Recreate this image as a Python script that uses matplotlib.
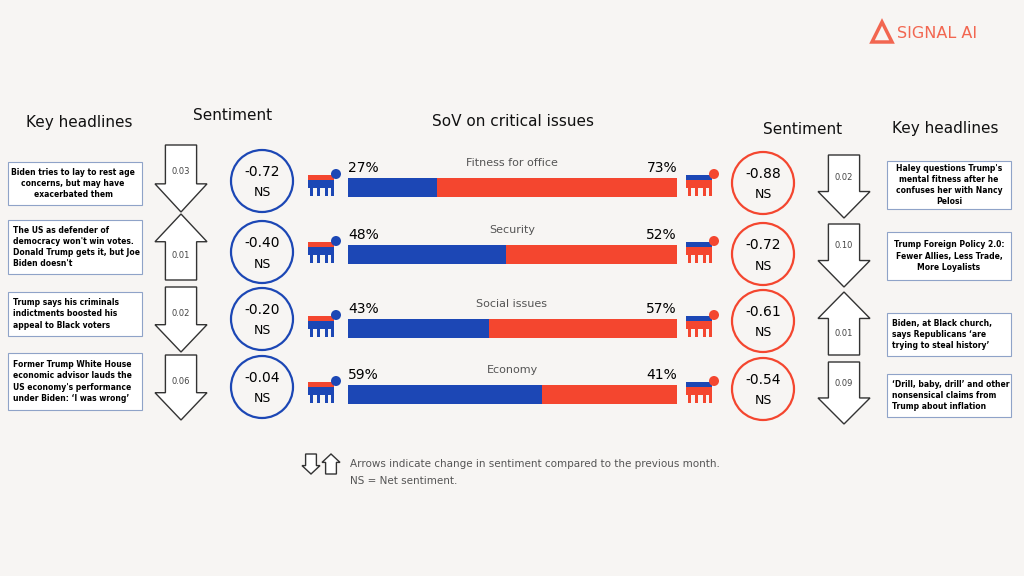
import matplotlib.pyplot as plt
from matplotlib.patches import Polygon, Circle, Rectangle

BLUE = "#1c47b5"
RED = "#f4462f"
BG = "#f7f5f3"

issues = ["Fitness for office", "Security", "Social issues", "Economy"]
dem_share = [27, 48, 43, 59]
rep_share = [73, 52, 57, 41]

dem_ns = ["-0.72", "-0.40", "-0.20", "-0.04"]
rep_ns = ["-0.88", "-0.72", "-0.61", "-0.54"]
dem_change = ["0.03", "0.01", "0.02", "0.06"]
dem_dir = ["down", "up", "down", "down"]
rep_change = ["0.02", "0.10", "0.01", "0.09"]
rep_dir = ["down", "down", "up", "down"]

dem_headlines = [
    "Biden tries to lay to rest age\nconcerns, but may have\nexacerbated them",
    "The US as defender of\ndemocracy won't win votes.\nDonald Trump gets it, but Joe\nBiden doesn't",
    "Trump says his criminals\nindictments boosted his\nappeal to Black voters",
    "Former Trump White House\neconomic advisor lauds the\nUS economy's performance\nunder Biden: \u2018I was wrong\u2019",
]
rep_headlines = [
    "Haley questions Trump's\nmental fitness after he\nconfuses her with Nancy\nPelosi",
    "Trump Foreign Policy 2.0:\nFewer Allies, Less Trade,\nMore Loyalists",
    "Biden, at Black church,\nsays Republicans \u2018are\ntrying to steal history\u2019",
    "\u2018Drill, baby, drill\u2019 and other\nnonsensical claims from\nTrump about inflation",
]

# layout (pixels)
bar_y = [187, 254, 328, 394]
circ_y = [181, 252, 319, 387]
l_arrows = [(145, 212), (214, 280), (287, 352), (355, 420)]
r_arrows = [(155, 218), (224, 287), (292, 355), (362, 424)]
l_boxes = [(162, 205), (220, 274), (292, 336), (353, 410)]
r_boxes = [(161, 209), (232, 280), (313, 356), (374, 417)]
BAR_X0, BAR_W = 348, 329


def arrow(ax, x0, x1, y0, y1, direction):
    w = x1 - x0
    s0, s1 = x0 + w * 0.2, x1 - w * 0.2
    h = (y1 - y0) * 0.42
    if direction == "down":
        pts = [(s0, y0), (s1, y0), (s1, y1 - h), (x1, y1 - h), ((x0 + x1) / 2, y1),
               (x0, y1 - h), (s0, y1 - h)]
    else:
        pts = [(s0, y1), (s1, y1), (s1, y0 + h), (x1, y0 + h), ((x0 + x1) / 2, y0),
               (x0, y0 + h), (s0, y0 + h)]
    ax.add_patch(Polygon(pts, closed=True, fc="white", ec="#333333", lw=1.0))


def mascot(ax, cx, cy, color, other):
    ax.add_patch(Rectangle((cx - 14, cy - 8), 26, 13, fc=color, ec="none"))
    ax.add_patch(Rectangle((cx - 14, cy - 8), 26, 5, fc=other, ec="none"))
    for dx in (-12, -5, 3, 9):
        ax.add_patch(Rectangle((cx + dx, cy + 4), 3, 9, fc=color, ec="none"))
    ax.add_patch(Circle((cx + 14, cy - 9), 5, fc=color, ec="none"))


def main():
    fig = plt.figure(figsize=(10.24, 5.76), dpi=100)
    fig.patch.set_facecolor(BG)
    ax = fig.add_axes([0, 0, 1, 1])
    ax.set_xlim(0, 1024)
    ax.set_ylim(576, 0)
    ax.axis("off")
    ax.set_facecolor(BG)

    hfont = dict(fontsize=11, color="#111111")
    ax.text(79, 123, "Key headlines", ha="center", va="center", **hfont)
    ax.text(233, 116, "Sentiment", ha="center", va="center", **hfont)
    ax.text(513, 121, "SoV on critical issues", ha="center", va="center", **hfont)
    ax.text(803, 129, "Sentiment", ha="center", va="center", **hfont)
    ax.text(945, 129, "Key headlines", ha="center", va="center", **hfont)

    # logo
    ax.add_patch(Polygon([(872, 42), (882, 22), (892, 42)], closed=True, fc="none",
                         ec="#f26650", lw=2.5))
    ax.text(897, 33, "SIGNAL AI", ha="left", va="center", fontsize=11.5, color="#f26650")

    # SoV bars
    ax.barh(bar_y, [d / 100 * BAR_W for d in dem_share], left=BAR_X0, height=19, color=BLUE)
    ax.barh(bar_y, [r / 100 * BAR_W for r in rep_share],
            left=[BAR_X0 + d / 100 * BAR_W for d in dem_share], height=19, color=RED)
    for i, y in enumerate(bar_y):
        ax.text(BAR_X0, y - 19, f"{dem_share[i]}%", ha="left", va="center", fontsize=10)
        ax.text(BAR_X0 + BAR_W, y - 19, f"{rep_share[i]}%", ha="right", va="center", fontsize=10)
        ax.text(512, y - 24, issues[i], ha="center", va="center", fontsize=8, color="#555555")
        mascot(ax, 322, y - 4, BLUE, RED)
        mascot(ax, 700, y - 4, RED, BLUE)

    for i in range(4):
        # circles
        ax.add_patch(Circle((262, circ_y[i]), 31, fc="none", ec=BLUE, lw=1.6))
        ax.text(262, circ_y[i] - 9, dem_ns[i], ha="center", va="center", fontsize=10)
        ax.text(262, circ_y[i] + 12, "NS", ha="center", va="center", fontsize=9)
        ax.add_patch(Circle((763, circ_y[i] + 2), 31, fc="none", ec=RED, lw=1.6))
        ax.text(763, circ_y[i] - 7, rep_ns[i], ha="center", va="center", fontsize=10)
        ax.text(763, circ_y[i] + 14, "NS", ha="center", va="center", fontsize=9)

        # arrows
        y0, y1 = l_arrows[i]
        arrow(ax, 155, 207, y0, y1, dem_dir[i])
        ty = y0 + 27 if dem_dir[i] == "down" else y1 - 25
        ax.text(181, ty, dem_change[i], ha="center", va="center", fontsize=6, color="#444444")
        y0, y1 = r_arrows[i]
        arrow(ax, 818, 870, y0, y1, rep_dir[i])
        ty = y0 + 22 if rep_dir[i] == "down" else y1 - 22
        ax.text(844, ty, rep_change[i], ha="center", va="center", fontsize=6, color="#444444")

        # headline boxes
        b0, b1 = l_boxes[i]
        ax.add_patch(Rectangle((8, b0), 134, b1 - b0, fc="white", ec="#8fa3c8", lw=0.8))
        ax.text(13 if i else 73, (b0 + b1) / 2, dem_headlines[i], ha="left" if i else "center",
                va="center", fontsize=5.5, fontweight="bold", linespacing=1.3)
        b0, b1 = r_boxes[i]
        ax.add_patch(Rectangle((887, b0), 124, b1 - b0, fc="white", ec="#8fa3c8", lw=0.8))
        ax.text(949 if i < 2 else 892, (b0 + b1) / 2, rep_headlines[i],
                ha="center" if i < 2 else "left", va="center", fontsize=5.5,
                fontweight="bold", linespacing=1.3)

    # footer
    arrow(ax, 302, 320, 454, 474, "down")
    arrow(ax, 322, 340, 454, 474, "up")
    ax.text(350, 464, "Arrows indicate change in sentiment compared to the previous month.",
            ha="left", va="center", fontsize=7.5, color="#555555")
    ax.text(350, 481, "NS = Net sentiment.", ha="left", va="center", fontsize=7.5, color="#555555")

    fig.savefig("out.png", dpi=100, facecolor=BG)


if __name__ == "__main__":
    main()
